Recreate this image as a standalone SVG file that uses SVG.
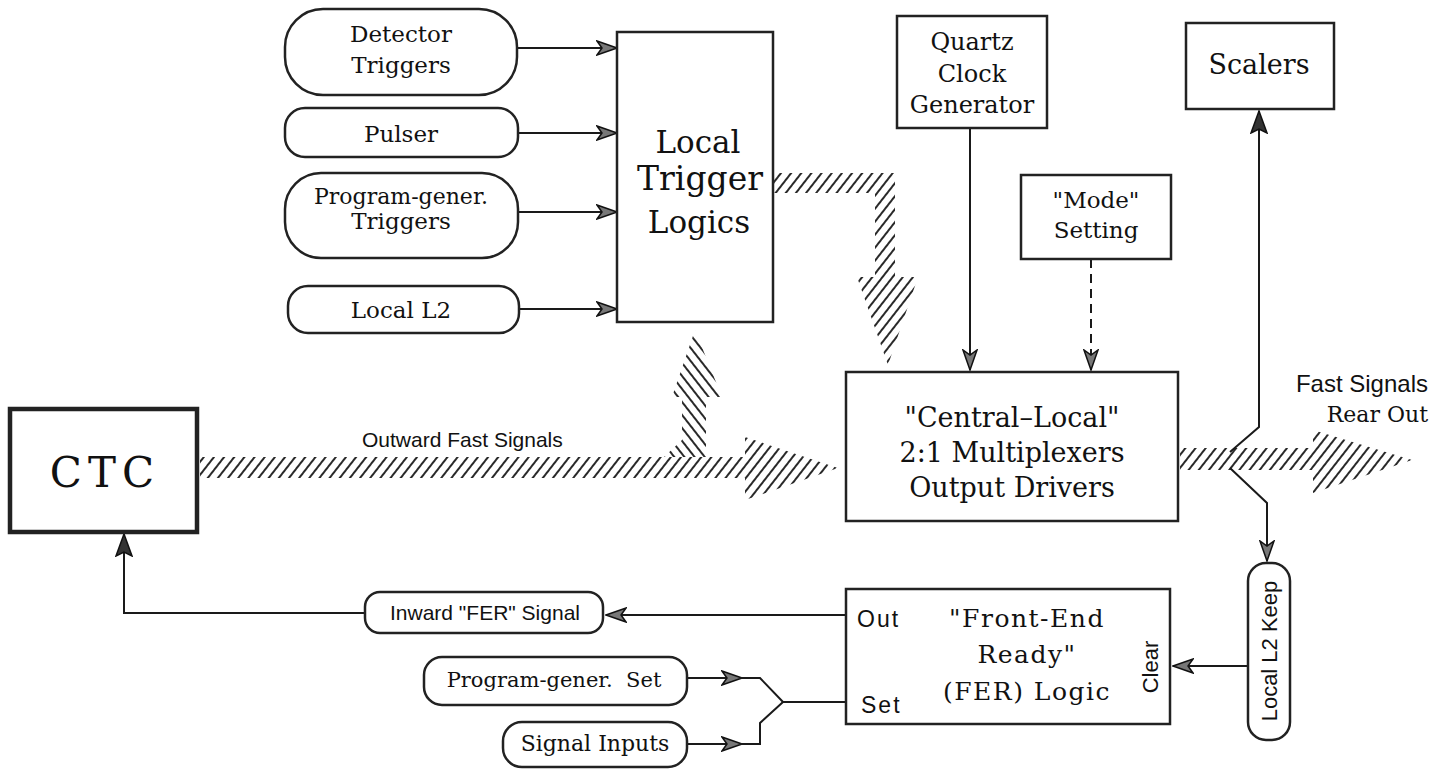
<svg xmlns="http://www.w3.org/2000/svg" width="1448" height="769" viewBox="0 0 1448 769">
<style>
  .box { fill: #fff; stroke: #222; stroke-width: 2.5; }
  .serif { font-family: "DejaVu Serif", "Liberation Serif", serif; fill: #111; }
  .sans { font-family: "Liberation Sans", Arial, sans-serif; fill: #111; }
  .mid { text-anchor: middle; }
  .wire { fill: none; stroke: #1a1a1a; stroke-width: 2; }
  .dash { stroke-dasharray: 9 6; }
</style>
<defs>
  <pattern id="hatchF" width="8" height="8" patternUnits="userSpaceOnUse" patternTransform="rotate(38)">
    <line x1="2" y1="0" x2="2" y2="8" stroke="#111" stroke-width="1.8"/>
  </pattern>
  <pattern id="hatchB" width="8" height="8" patternUnits="userSpaceOnUse" patternTransform="rotate(-38)">
    <line x1="2" y1="0" x2="2" y2="8" stroke="#111" stroke-width="1.8"/>
  </pattern>
  <marker id="ah" viewBox="0 0 22 16" refX="21" refY="8" markerWidth="22" markerHeight="16" orient="auto" markerUnits="userSpaceOnUse">
    <path d="M1,1 L21,8 L1,15 L6,8 Z" fill="#777" stroke="#111" stroke-width="1.5"/>
  </marker>
  <marker id="ahs" viewBox="0 0 24 18" refX="23" refY="9" markerWidth="24" markerHeight="18" orient="auto" markerUnits="userSpaceOnUse">
    <path d="M1,1 L23,9 L1,17 L5,9 Z" fill="#333" stroke="#111" stroke-width="1.5"/>
  </marker>
</defs>
<rect width="1448" height="769" fill="#fff"/>

<g id="connectors">
  <!-- hatched buses -->
  <polygon points="200,457 745,457 745,437 838,468 745,500 745,478 200,478" fill="url(#hatchF)"/>
  <polygon points="664,457 682,440 682,397 672,397 695,330 722,397 706,397 706,457" fill="url(#hatchB)"/>
  <polygon points="773,173 895,173 895,277 918,277 888,365 857,277 875,277 875,193 773,193" fill="url(#hatchF)"/>
  <polygon points="1180,448 1313,448 1313,430 1412,460 1313,493 1313,470 1180,470" fill="url(#hatchF)"/>
  <!-- input arrows -->
  <path class="wire" d="M518,48 L617,48" marker-end="url(#ah)"/>
  <path class="wire" d="M518,133 L617,133" marker-end="url(#ah)"/>
  <path class="wire" d="M518,212 L617,212" marker-end="url(#ah)"/>
  <path class="wire" d="M519,309 L617,309" marker-end="url(#ah)"/>
  <!-- clock and mode -->
  <path class="wire" d="M970,128 L970,370" marker-end="url(#ah)"/>
  <path class="wire dash" d="M1091,259 L1091,370" marker-end="url(#ah)"/>
  <!-- tap to scalers and local L2 keep -->
  <path class="wire" d="M1230,452 L1259,427 L1259,111" marker-end="url(#ahs)"/>
  <path class="wire" d="M1230,468 L1267,503 L1267,561" marker-end="url(#ah)"/>
  <!-- FER paths -->
  <path class="wire" d="M846,615 L606,615" marker-end="url(#ah)"/>
  <path class="wire" d="M365,613 L124,613 L124,534" marker-end="url(#ahs)"/>
  <path class="wire" d="M1248,666 L1173,666" marker-end="url(#ah)"/>
  <path class="wire" d="M687,678 L742,678"  marker-end="url(#ah)"/>
  <path class="wire" d="M687,744 L742,744"  marker-end="url(#ah)"/>
  <path class="wire" d="M740,678 L760,678 L783,702 L846,702"/>
  <path class="wire" d="M740,744 L760,744 L760,723 L783,702"/>
</g>

<text class="sans" x="362" y="447" font-size="21">Outward Fast Signals</text>
<text class="sans" x="1428" y="392" font-size="24" text-anchor="end">Fast Signals</text>
<text class="serif" x="1428" y="422" font-size="22" text-anchor="end">Rear Out</text>

<g id="detector-triggers">
  <rect class="box" x="285" y="9" width="232" height="86" rx="38"/>
  <text class="serif mid" x="401" y="42" font-size="23">Detector</text>
  <text class="serif mid" x="401" y="73" font-size="23">Triggers</text>
</g>
<g id="pulser">
  <rect class="box" x="285" y="108" width="233" height="49" rx="20"/>
  <text class="serif mid" x="401" y="142" font-size="23">Pulser</text>
</g>
<g id="program-triggers">
  <rect class="box" x="285" y="173" width="233" height="85" rx="36"/>
  <text class="serif mid" x="401" y="204" font-size="22">Program-gener.</text>
  <text class="serif mid" x="401" y="229" font-size="23">Triggers</text>
</g>
<g id="local-l2">
  <rect class="box" x="288" y="286" width="231" height="47" rx="20"/>
  <text class="serif mid" x="401" y="318" font-size="23">Local L2</text>
</g>
<g id="local-trigger-logics">
  <rect class="box" x="617" y="32" width="156" height="290"/>
  <text class="serif mid" x="698" y="153" font-size="31">Local</text>
  <text class="serif mid" x="700" y="190" font-size="33">Trigger</text>
  <text class="serif mid" x="699" y="233" font-size="31">Logics</text>
</g>
<g id="quartz-clock">
  <rect class="box" x="897" y="16" width="150" height="112"/>
  <text class="serif mid" x="972" y="50" font-size="24">Quartz</text>
  <text class="serif mid" x="972" y="82" font-size="24">Clock</text>
  <text class="serif mid" x="972" y="113" font-size="24">Generator</text>
</g>
<g id="mode-setting">
  <rect class="box" x="1021" y="175" width="150" height="84"/>
  <text class="serif mid" x="1096" y="208" font-size="23">"Mode"</text>
  <text class="serif mid" x="1096" y="238" font-size="23">Setting</text>
</g>
<g id="scalers">
  <rect class="box" x="1186" y="23" width="148" height="86"/>
  <text class="serif mid" x="1259" y="74" font-size="27">Scalers</text>
</g>
<g id="ctc">
  <rect class="box" x="10" y="409" width="187" height="123" style="stroke-width:4.5"/>
  <text class="serif mid" x="105" y="487" font-size="42" letter-spacing="6">CTC</text>
</g>
<g id="central-local">
  <rect class="box" x="846" y="372" width="332" height="149"/>
  <text class="serif mid" x="1012" y="427" font-size="27">"Central–Local"</text>
  <text class="serif mid" x="1012" y="462" font-size="27">2:1 Multiplexers</text>
  <text class="serif mid" x="1012" y="497" font-size="27">Output Drivers</text>
</g>
<g id="fer-logic">
  <rect class="box" x="846" y="589" width="324" height="135"/>
  <text class="sans" x="857" y="627" font-size="23" letter-spacing="2">Out</text>
  <text class="sans" x="861" y="713" font-size="23" letter-spacing="2">Set</text>
  <text class="serif mid" x="1027" y="627" font-size="25" letter-spacing="1.5">"Front-End</text>
  <text class="serif mid" x="1027" y="663" font-size="25" letter-spacing="1.5">Ready"</text>
  <text class="serif mid" x="1027" y="700" font-size="25" letter-spacing="1.5">(FER) Logic</text>
  <text class="sans mid" x="1158" y="667" font-size="22" transform="rotate(-90 1158 667)">Clear</text>
</g>
<g id="local-l2-keep">
  <rect class="box" x="1248" y="563" width="42" height="177" rx="18"/>
  <text class="sans mid" x="1277" y="651" font-size="22" transform="rotate(-90 1277 651)">Local L2 Keep</text>
</g>
<g id="inward-fer">
  <rect class="box" x="365" y="592" width="238" height="41" rx="15"/>
  <text class="sans mid" x="485" y="620" font-size="21">Inward "FER" Signal</text>
</g>
<g id="program-set">
  <rect class="box" x="424" y="657" width="263" height="48" rx="18"/>
  <text class="serif mid" x="554" y="687" font-size="21" xml:space="preserve">Program-gener.  Set</text>
</g>
<g id="signal-inputs">
  <rect class="box" x="503" y="722" width="184" height="45" rx="19"/>
  <text class="serif mid" x="595" y="751" font-size="22">Signal Inputs</text>
</g>
</svg>
